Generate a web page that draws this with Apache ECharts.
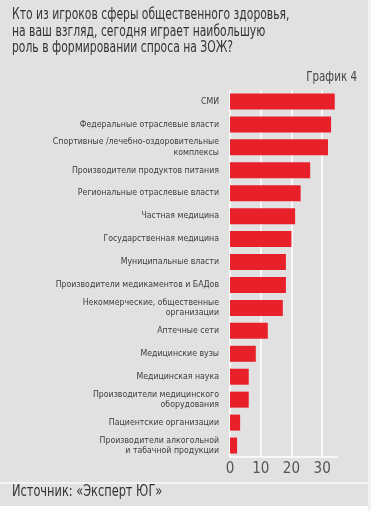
<!DOCTYPE html>
<html><head><meta charset="utf-8">
<script src="https://cdn.jsdelivr.net/npm/echarts@6/dist/echarts.min.js"></script>
<style>html,body{margin:0;padding:0;background:#fff}#c{width:371px;height:511px}</style>
</head><body><div id="c"></div>
<script>
const categories = [
  'СМИ',
  'Федеральные отраслевые власти',
  'Спортивные /лечебно-оздоровительные\nкомплексы',
  'Производители продуктов питания',
  'Региональные отраслевые власти',
  'Частная медицина',
  'Государственная медицина',
  'Муниципальные власти',
  'Производители медикаментов и БАДов',
  'Некоммерческие, общественные\nорганизации',
  'Аптечные сети',
  'Медицинские вузы',
  'Медицинская наука',
  'Производители медицинского\nоборудования',
  'Пациентские организации',
  'Производители алкогольной\nи табачной продукции'
];
const values = [34.1, 32.9, 31.9, 26.1, 23.0, 21.2, 20.0, 18.2, 18.2, 17.2, 12.3, 8.4, 6.1, 6.1, 3.3, 2.3];
const titleLines = ['Кто из игроков сферы общественного здоровья,', 'на ваш взгляд, сегодня играет наибольшую', 'роль в формировании спроса на ЗОЖ?'];
const chartLabel = 'График 4';
const sourceText = 'Источник: «Эксперт ЮГ»';

const FONT = '"DejaVu Sans Condensed","DejaVu Sans",sans-serif';
const chart = echarts.init(document.getElementById('c'), null, {renderer:'canvas'});
chart.setOption({
  backgroundColor: '#e1e1e1',
  animation: false,
  graphic: [
    {type:'rect', left:0, top:482, shape:{width:371, height:2}, style:{fill:'#f4f4f4'}},
    {type:'rect', left:0, top:506, shape:{width:371, height:5}, style:{fill:'#ffffff'}},
    {type:'rect', left:368, top:0, shape:{width:3, height:511}, style:{fill:'#f2f2f2'}},
    {type:'text', x:12, y:7, scaleX:0.8, style:{text:titleLines.join('\n'), font:'15px '+FONT, fill:'#333', lineHeight:16.5}},
    {type:'text', x:357, y:70, scaleX:0.82, style:{text:chartLabel, font:'14px '+FONT, fill:'#444', align:'right'}},
    {type:'text', x:12, y:484, scaleX:0.79, style:{text:sourceText, font:'16px '+FONT, fill:'#333'}}
  ],
  grid: {left:230, top:90, right:33.5, bottom:54, containLabel:false},
  xAxis: {
    type:'value', min:0, max:35, interval:10, position:'bottom',
    axisLine:{show:true, lineStyle:{color:'#ffffff', width:1.5}},
    axisTick:{show:false},
    splitLine:{show:true, showMaxLine:false, lineStyle:{color:'#ffffff', width:1.5}},
    axisLabel:{color:'#555', fontSize:15, fontFamily:FONT, margin:5, showMaxLabel:false}
  },
  yAxis: {
    type:'category', data:categories, inverse:true,
    axisLine:{show:false}, axisTick:{show:false},
    axisLabel:{color:'#3c3c3c', fontSize:8.7, fontFamily:FONT, margin:11, lineHeight:10.5, align:'right'}
  },
  series: [{
    type:'bar', data:values, barWidth:16,
    itemStyle:{color:'#e8202a'}
  }]
});
</script></body></html>
